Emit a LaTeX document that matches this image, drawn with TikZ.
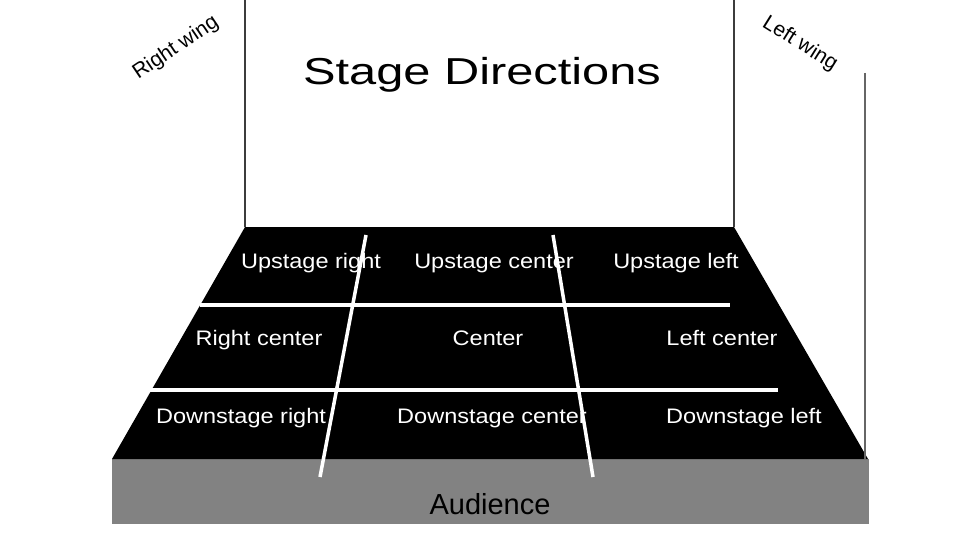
\documentclass[tikz,border=0pt]{standalone}
\usepackage{fontspec}
\setmainfont{Liberation Sans}
\definecolor{wallgray}{HTML}{3C3C3C}
\definecolor{audgray}{HTML}{828282}
\newcommand{\cellwide}[1]{\scalebox{1.12}[1]{#1}}
\begin{document}
\begin{tikzpicture}[x=1pt,y=-1pt,
  wall/.style={draw=wallgray,line width=2pt},
  chalk/.style={draw=white,line width=3.5pt},
  cell/.style={text=white,font=\fontsize{21}{24}\selectfont,inner sep=0pt,anchor=base},
  winglabel/.style={text=black,font=\fontsize{21}{24}\selectfont,inner sep=0pt}]
\useasboundingbox (0,0) rectangle (960,540);
\fill[white] (0,0) rectangle (960,540);
% stage corners
\coordinate (UL) at (245,227);
\coordinate (UR) at (734,227);
\coordinate (DL) at (112,459);
\coordinate (DR) at (868,459);
\coordinate (WLtop) at (245,0);
\coordinate (WRtop) at (734,0);
\coordinate (FRtop) at (865,73);
\coordinate (FRbot) at (865,459);
% audience
\node[fill=audgray,minimum width=757pt,minimum height=65pt,inner sep=0pt,anchor=north west] (aud) at (112,459) {};
\node[font=\fontsize{29}{32}\selectfont,inner sep=0pt,anchor=base] (audtext) at (490,514) {Audience};
% stage floor
\fill[black] (UL) -- (UR) -- (DR) -- (DL) -- cycle;
% walls
\draw[wall] (WLtop) -- (UL);
\draw[wall] (WRtop) -- (UR);
\draw[draw=gray!80!black,line width=1.5pt] (FRtop) -- (FRbot);
% grid lines
\coordinate (h1a) at (200,305); \coordinate (h1b) at (730,305);
\coordinate (h2a) at (150,390); \coordinate (h2b) at (778,390);
\coordinate (v1a) at (366,235); \coordinate (v1b) at (320,477);
\coordinate (v2a) at (553,235); \coordinate (v2b) at (593,477);
% labels
\node[cell] (ur) at (311,268) {\cellwide{Upstage right}};
\node[cell] (uc) at (494,268) {\cellwide{Upstage center}};
\node[cell] (ul) at (676,268) {\cellwide{Upstage left}};
\node[cell] (rc) at (259,345) {\cellwide{Right center}};
\node[cell] (c) at (488,345) {\cellwide{Center}};
\node[cell] (lc) at (722,345) {\cellwide{Left center}};
\node[cell] (dr) at (241,423) {\cellwide{Downstage right}};
\node[cell] (dc) at (492,423) {\cellwide{Downstage center}};
\node[cell] (dl) at (744,423) {\cellwide{Downstage left}};
\draw[chalk] (h1a) -- (h1b);
\draw[chalk] (h2a) -- (h2b);
\draw[chalk] (v1a) -- (v1b);
\draw[chalk] (v2a) -- (v2b);
% title and wings
\node[font=\fontsize{37.5}{42}\selectfont,inner sep=0pt,anchor=base] (title) at (482,85) {\scalebox{1.3}[1]{Stage Directions}};
\node[winglabel,rotate=34] (rw) at (176,48) {Right wing};
\node[winglabel,rotate=-32] (lw) at (800,44) {Left wing};
\end{tikzpicture}
\end{document}
